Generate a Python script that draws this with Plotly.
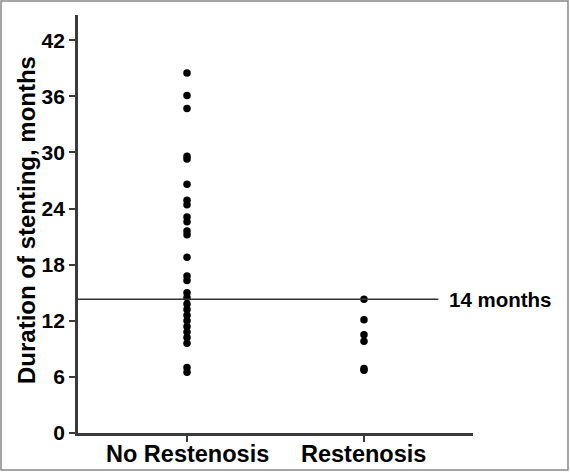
import plotly.graph_objects as go

categories = ["No Restenosis", "Restenosis"]
no_restenosis = [38.5, 36.1, 34.7, 29.6, 29.3, 26.6, 24.9, 24.4, 23.1, 22.6,
                 21.6, 21.2, 18.8, 16.8, 16.3, 15.0, 14.5, 13.8, 13.2, 12.6,
                 12.0, 11.4, 10.8, 10.2, 9.6, 7.0, 6.5]
restenosis = [14.3, 12.1, 10.5, 9.8, 6.9, 6.7]
threshold = 14.3
threshold_label = "14 months"
y_title = "Duration of stenting, months"
y_ticks = [0, 6, 12, 18, 24, 30, 36, 42]

FONT = "Liberation Sans, Arial, sans-serif"
AX = "#3a3a3a"
W, H = 570, 472
L, R, T, B = 78, 97, 15, 39
PW, PH = W - L - R, H - T - B

fig = go.Figure()
for i, vals in enumerate([no_restenosis, restenosis]):
    fig.add_trace(go.Scatter(
        x=[i] * len(vals), y=vals, mode="markers",
        marker=dict(color="black", size=7.5),
        showlegend=False, hoverinfo="y"))

fig.add_trace(go.Scatter(
    x=[-0.616, 1.42], y=[threshold, threshold], mode="lines",
    line=dict(color="#333333", width=1.6), showlegend=False, hoverinfo="skip"))

fig.add_annotation(x=1.47, y=threshold, text="<b>" + threshold_label + "</b>",
                   showarrow=False, xanchor="left", yanchor="middle",
                   font=dict(family=FONT, size=20.5, color="black"))

fig.add_annotation(xref="paper", yref="paper", x=(27 - L) / PW, y=(H - B - 220) / PH,
                   text="<b>" + y_title + "</b>", textangle=-90,
                   showarrow=False, xanchor="center", yanchor="middle",
                   font=dict(family=FONT, size=24, color="black"))

for i, c in enumerate(categories):
    fig.add_annotation(x=i, xref="x", yref="paper", y=-(454 - (H - B)) / PH,
                       text="<b>" + c + "</b>", showarrow=False,
                       xanchor="center", yanchor="middle",
                       font=dict(family=FONT, size=23.5, color="black"))

fig.update_layout(
    width=W, height=H,
    margin=dict(l=L, r=R, t=T, b=B),
    paper_bgcolor="white", plot_bgcolor="white",
    font=dict(family=FONT, color="black"),
    xaxis=dict(range=[-0.616, 1.616], tickvals=[0, 1], showticklabels=False,
               showline=True, linecolor=AX, linewidth=2.8,
               ticks="outside", ticklen=6, tickwidth=1.5, tickcolor=AX,
               showgrid=False, zeroline=False, automargin=False),
    yaxis=dict(range=[0, 44.7], tickvals=y_ticks,
               ticktext=["<b>%d</b>" % v for v in y_ticks],
               showline=True, linecolor=AX, linewidth=2.8,
               ticks="outside", ticklen=6, tickwidth=1.5, tickcolor=AX,
               showgrid=False, zeroline=False, automargin=False,
               tickfont=dict(family=FONT, size=21, color="black")),
    shapes=[dict(type="rect", xref="paper", yref="paper",
                 x0=-(L - 1) / PW, x1=1 + (R - 2) / PW, y0=-(B - 2) / PH, y1=1 + (T - 1) / PH,
                 line=dict(color="#888888", width=1.5))],
)

fig.write_html("out.html", config={"displayModeBar": False},
               post_script="document.body.style.margin='0';document.body.style.overflow='hidden';")
